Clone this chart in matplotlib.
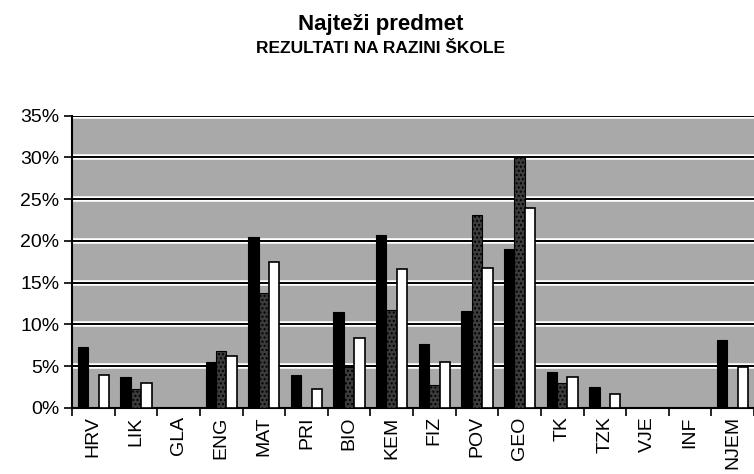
import numpy as np
import matplotlib
matplotlib.use('Agg')
import matplotlib.pyplot as plt

plt.rcParams['font.family'] = ['Liberation Sans', 'DejaVu Sans']

# data (percent)
predmeti = ['HRV', 'LIK', 'GLA', 'ENG', 'MAT', 'PRI', 'BIO', 'KEM', 'FIZ', 'POV',
            'GEO', 'TK', 'TZK', 'VJE', 'INF', 'NJEM']
crni = [7.3, 3.7, 0, 5.5, 20.5, 3.9, 11.5, 20.7, 7.7, 11.6, 19.0, 4.3, 2.5, 0, 0, 8.2]
sivi = [0, 2.3, 0, 6.8, 13.8, 0, 4.9, 11.7, 2.7, 23.1, 30.0, 3.0, 0, 0, 0, 0]
bijeli = [3.9, 3.0, 0, 6.2, 17.5, 2.3, 8.4, 16.6, 5.5, 16.8, 23.9, 3.7, 1.7, 0, 0, 4.9]
yticks = [0, 5, 10, 15, 20, 25, 30, 35]

fig = plt.figure(figsize=(7.54, 4.74), dpi=100)
ax = fig.add_axes([72/754, 1-408/474, 1-72/754, (408-115.7)/474])
ax.set_facecolor('#a9a9a9')

x = np.arange(len(predmeti))
w = 0.245

# gridlines: black with white halo like the scan
for y in yticks[1:]:
    ax.axhline(y, color='white', lw=4, zorder=1)
    ax.axhline(y, color='black', lw=1.4, zorder=2)

ax.bar(x - w, crni, w, color='black', edgecolor='black', lw=0.8, zorder=3)
ax.bar(x, sivi, w, color='#3c3c3c', edgecolor='black', lw=0.8, hatch='....', zorder=3)
ax.bar(x + w, bijeli, w, color='white', edgecolor='black', lw=1.2, zorder=3)

ax.set_ylim(0, 35)
ax.set_xlim(-0.5, 15.45)
ax.set_yticks(yticks)
ax.set_yticklabels([f'{v}%' for v in yticks], fontsize=14)
ax.set_xticks(x)
ax.set_xticklabels(predmeti, rotation=90, fontsize=14)
ax.tick_params(axis='x', length=0, pad=6)
ax.set_xticks(np.arange(-0.5, 16, 1), minor=True)
ax.tick_params(axis='x', which='minor', length=6, width=1.2, direction='out')
ax.tick_params(axis='y', length=6, width=1.2, direction='out', pad=3)

for s in ['top', 'right']:
    ax.spines[s].set_visible(False)
ax.spines['left'].set_linewidth(1.5)
ax.spines['bottom'].set_linewidth(1.5)

fig.text(0.505, 0.948, 'Najteži predmet', ha='center', va='center',
         fontsize=16, fontweight='bold')
fig.text(0.505, 0.898, 'REZULTATI NA RAZINI ŠKOLE', ha='center', va='center',
         fontsize=12.5, fontweight='bold')

fig.savefig('out.png', dpi=100)
